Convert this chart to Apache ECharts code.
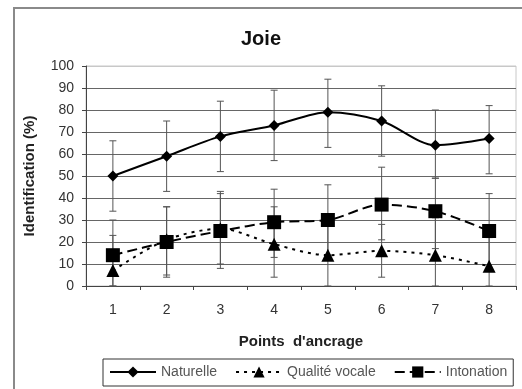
<!DOCTYPE html>
<html>
<head>
<meta charset="utf-8">
<script src="https://cdn.jsdelivr.net/npm/echarts@6/dist/echarts.min.js"></script>
<style>
  html, body { margin: 0; padding: 0; background: #fff; }
  #chart { width: 522px; height: 389px; }
</style>
</head>
<body>
<div id="chart"></div>
<script>
// points d'ancrage
var categories = ["1", "2", "3", "4", "5", "6", "7", "8"];

// moyennes (%)
var naturelle = [50, 59, 68, 73, 79, 75, 64, 67];
var qualiteVocale = [7, 21, 26, 19, 14, 16, 14, 9];
var intonation = [14, 20, 25, 29, 30, 37, 34, 25];

// barres d'erreur : bornes basses / hautes
var naturelleLow = [34, 43, 52, 57, 63, 59, 49, 51];
var naturelleHigh = [66, 75, 84, 89, 94, 91, 80, 82];
var qualiteLow = [0, 5, 10, 4, 0, 4, 0, 0];
var qualiteHigh = [23, 36, 43, 36, 28, 28, 31, 22];
var intonationLow = [0, 4, 8, 13, 14, 21, 17, 8];
var intonationHigh = [30, 36, 42, 44, 46, 54, 49, 42];

var chart = echarts.init(document.getElementById("chart"));

function errData(lo, hi) {
  return categories.map(function (c, i) { return [i, lo[i], hi[i]]; });
}

// barre verticale + petits chapeaux
function renderErr(params, api) {
  var x = api.value(0);
  var lo = api.coord([x, api.value(1)]);
  var hi = api.coord([x, api.value(2)]);
  var w = 3.5;
  var st = { stroke: "#555", lineWidth: 1 };
  return {
    type: "group",
    children: [
      { type: "line", shape: { x1: hi[0], y1: hi[1], x2: lo[0], y2: lo[1] }, style: st },
      { type: "line", shape: { x1: hi[0] - w, y1: hi[1], x2: hi[0] + w, y2: hi[1] }, style: st },
      { type: "line", shape: { x1: lo[0] - w, y1: lo[1], x2: lo[0] + w, y2: lo[1] }, style: st }
    ]
  };
}

function errSeries(lo, hi) {
  return {
    type: "custom",
    renderItem: renderErr,
    data: errData(lo, hi),
    encode: { x: 0, y: [1, 2] },
    silent: true,
    z: 1
  };
}

var gridColors = ["#666", "#666", "#666", "#666", "#666", "#666", "#666", "#666", "#666", "#666", "#c8c8c8"];

var option = {
  backgroundColor: "#fff",
  animation: false,
  graphic: [
    {
      type: "rect",
      shape: { x: 14, y: 8, width: 600, height: 500 },
      style: { fill: "none", stroke: "#8a8a8a", lineWidth: 2 },
      silent: true
    }
  ],
  title: {
    text: "Joie",
    left: "center",
    top: 24,
    textStyle: { fontFamily: "Liberation Sans", fontSize: 20, fontWeight: "bold", color: "#111" }
  },
  grid: { left: 86, right: 6, top: 66, bottom: 103, show: true, borderColor: "#c8c8c8", borderWidth: 1 },
  legend: {
    data: ["Naturelle", "Qualité vocale", "Intonation"],
    left: 103,
    top: 359,
    padding: [6, 6, 7, 6],
    itemGap: 18,
    itemWidth: 46,
    itemHeight: 14,
    borderColor: "#333",
    borderWidth: 1,
    textStyle: { fontFamily: "Liberation Sans", fontSize: 14, color: "#555" }
  },
  xAxis: {
    type: "category",
    data: categories,
    name: "Points  d'ancrage",
    nameLocation: "middle",
    nameGap: 48,
    nameTextStyle: { fontFamily: "Liberation Sans", fontSize: 15, fontWeight: "bold", color: "#222" },
    axisLine: { lineStyle: { color: "#444", width: 1 } },
    axisTick: { show: true, inside: false, length: 4, lineStyle: { color: "#444" } },
    axisLabel: { fontFamily: "Liberation Sans", fontSize: 14, color: "#333", margin: 17 },
    splitLine: { show: false }
  },
  yAxis: {
    type: "value",
    min: 0,
    max: 100,
    interval: 10,
    name: "Identification (%)",
    nameLocation: "middle",
    nameRotate: 90,
    nameGap: 49,
    nameTextStyle: { fontFamily: "Liberation Sans", fontSize: 15, fontWeight: "bold", color: "#222" },
    axisLine: { show: true, lineStyle: { color: "#444", width: 1 } },
    axisTick: { show: true, length: 4, lineStyle: { color: "#444" } },
    axisLabel: { fontFamily: "Liberation Sans", fontSize: 14, color: "#333", margin: 12 },
    splitLine: { show: true, lineStyle: { color: gridColors, width: 1 } }
  },
  series: [
    errSeries(naturelleLow, naturelleHigh),
    errSeries(qualiteLow, qualiteHigh),
    errSeries(intonationLow, intonationHigh),
    {
      name: "Naturelle",
      type: "line",
      data: naturelle,
      smooth: 0.3,
      symbol: "diamond",
      symbolSize: 11,
      itemStyle: { color: "#000" },
      lineStyle: { color: "#000", width: 2 },
      z: 3
    },
    {
      name: "Qualité vocale",
      type: "line",
      data: qualiteVocale,
      smooth: 0.3,
      symbol: "triangle",
      symbolSize: 13,
      itemStyle: { color: "#000" },
      lineStyle: { color: "#000", width: 2, type: [3, 5] },
      z: 3
    },
    {
      name: "Intonation",
      type: "line",
      data: intonation,
      smooth: 0.3,
      symbol: "rect",
      symbolSize: 14,
      itemStyle: { color: "#000" },
      lineStyle: { color: "#000", width: 2, type: [10, 5] },
      z: 4
    }
  ]
};

chart.setOption(option);
</script>
</body>
</html>
